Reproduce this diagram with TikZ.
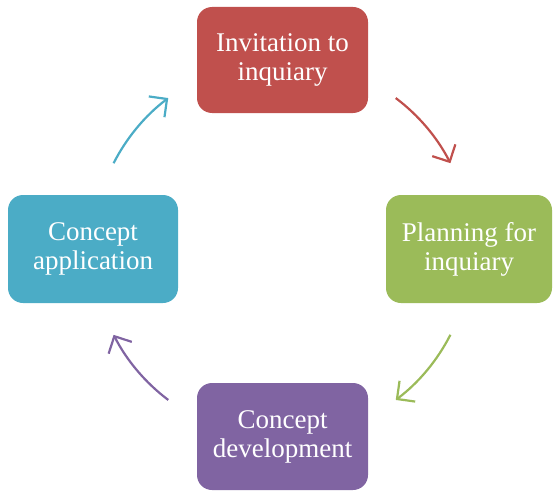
\documentclass[tikz,border=0pt]{standalone}
\usepackage{fontspec}
\setmainfont{Liberation Serif}
\usepackage{xcolor}
\usetikzlibrary{arrows.meta}
\definecolor{stepred}{HTML}{C0504D}
\definecolor{stepgreen}{HTML}{9BBB59}
\definecolor{steppurple}{HTML}{8064A2}
\definecolor{stepblue}{HTML}{4BACC6}
\tikzset{
  stagebox/.style={rounded corners=15pt, text=white, align=center,
    inner sep=0pt, font=\fontsize{27}{29}\selectfont},
  cyclearrow/.style={line width=2.2pt, -{Straight Barb[length=13pt,width=26pt,line width=2.2pt]}}
}
\begin{document}
\begin{tikzpicture}[x=1pt,y=1pt]
        \useasboundingbox (0,0) rectangle (553,491);
        \node[stagebox, fill=stepred, minimum width=171, minimum height=106] (invite) at (282.5,431) {Invitation to\\inquiary};
        \node[stagebox, fill=stepgreen, minimum width=166, minimum height=108] (plan) at (469,242) {Planning for\\inquiary};
        \node[stagebox, fill=steppurple, minimum width=171, minimum height=107] (develop) at (282.5,54.5) {Concept\\development};
        \node[stagebox, fill=stepblue, minimum width=170, minimum height=108] (apply) at (93,242) {Concept\\application};
        \coordinate (hub) at (282,242);
        \draw[cyclearrow, stepred] (hub) ++(53:189) arc[start angle=53, end angle=27, radius=189];
        \draw[cyclearrow, stepgreen] (hub) ++(-27:189) arc[start angle=-27, end angle=-53, radius=189];
        \draw[cyclearrow, steppurple] (hub) ++(-127:189) arc[start angle=-127, end angle=-153, radius=189];
        \draw[cyclearrow, stepblue] (hub) ++(153:189) arc[start angle=153, end angle=127, radius=189];
      \end{tikzpicture}
\end{document}
